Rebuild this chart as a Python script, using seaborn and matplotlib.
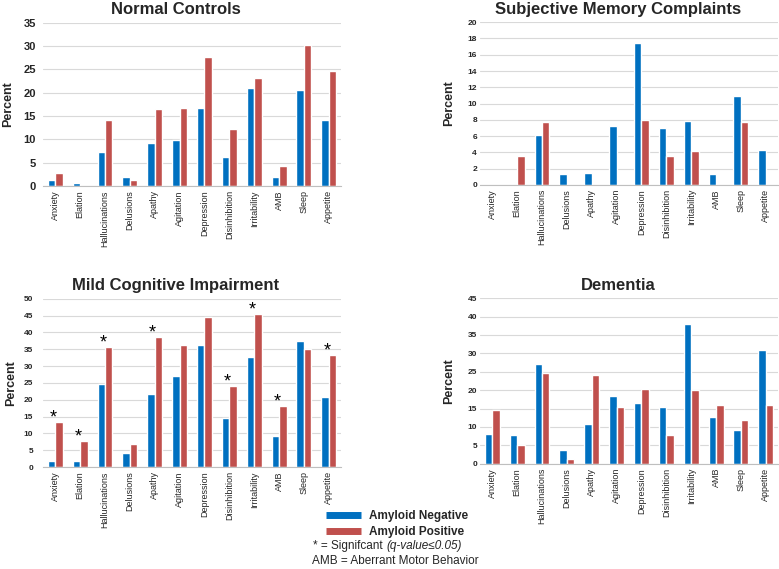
import matplotlib
matplotlib.use("Agg")
import matplotlib.pyplot as plt
from matplotlib.lines import Line2D
import seaborn as sns
import pandas as pd

# symptom categories (same order in every panel)
symptoms = ['Anxiety', 'Elation', 'Hallucinations', 'Delusions', 'Apathy', 'Agitation',
            'Depression', 'Disinhibition', 'Irritability', 'AMB', 'Sleep', 'Appetite']

# percent values
nc_neg = [1.4, 0.6, 7.3, 2.0, 9.2, 9.8, 16.8, 6.2, 21.0, 2.0, 20.6, 14.1]
nc_pos = [2.7, 0.0, 14.1, 1.4, 16.5, 16.7, 27.7, 12.3, 23.1, 4.2, 30.3, 24.7]

smc_neg = [0.0, 0.0, 6.1, 1.4, 1.5, 7.2, 17.4, 7.0, 7.9, 1.4, 10.9, 4.3]
smc_pos = [0.0, 3.6, 7.7, 0.0, 0.0, 0.0, 8.0, 3.6, 4.2, 0.0, 7.7, 0.0]

mci_neg = [1.8, 1.8, 24.7, 4.1, 21.8, 27.2, 36.2, 14.5, 32.6, 9.2, 37.4, 20.7]
mci_pos = [13.4, 7.8, 35.8, 7.0, 38.5, 36.2, 44.7, 24.1, 45.6, 18.2, 35.1, 33.3]
mci_sig = [True, True, True, False, True, False, False, True, True, True, False, True]

dem_neg = [8.1, 7.8, 27.2, 3.6, 10.9, 18.5, 16.5, 15.5, 38.1, 12.7, 9.3, 31.0]
dem_pos = [14.5, 5.1, 24.6, 1.4, 24.2, 15.4, 20.4, 7.9, 20.1, 16.0, 11.9, 16.0]

status = ['Amyloid Negative', 'Amyloid Positive']
colors = ['#0070C0', '#C0504D']


def make_df(neg, pos):
    return pd.DataFrame({
        'symptom': symptoms * 2,
        'pct': neg + pos,
        'status': [status[0]] * len(symptoms) + [status[1]] * len(symptoms),
    })


sns.set_theme(style='white')
plt.rcParams['font.family'] = ['Liberation Sans', 'DejaVu Sans']

fig = plt.figure(figsize=(7.79, 5.69), dpi=100)

# title, neg, pos, ymax, step, ytick size, ytick pad, ylabel pad, title x, axes rect
panels = [
    ('Normal Controls', nc_neg, nc_pos, 35, 5, 8, 5, 7, 0.446, [0.055, 0.673, 0.383, 0.287]),
    ('Subjective Memory Complaints', smc_neg, smc_pos, 20, 2, 6, 2, 9, 0.463, [0.616, 0.675, 0.383, 0.286]),
    ('Mild Cognitive Impairment', mci_neg, mci_pos, 50, 5, 6, 7, 5, 0.446, [0.055, 0.179, 0.383, 0.296]),
    ('Dementia', dem_neg, dem_pos, 45, 5, 6, 2, 9, 0.463, [0.616, 0.185, 0.383, 0.291]),
]

axes = []
for title, neg, pos, ymax, step, ysize, ypad, lpad, tx, rect in panels:
    ax = fig.add_axes(rect)
    sns.barplot(data=make_df(neg, pos), x='symptom', y='pct', hue='status',
                palette=colors, width=0.6, saturation=1, ax=ax, legend=False)
    ax.set_ylim(0, ymax)
    ax.set_xlim(-0.5, len(symptoms) - 0.5)
    ax.set_yticks(range(0, ymax + 1, step))
    ax.yaxis.grid(True, color='#D9D9D9', linewidth=0.8)
    ax.set_axisbelow(True)
    for s in ['top', 'right', 'left']:
        ax.spines[s].set_visible(False)
    ax.spines['bottom'].set_color('#BFBFBF')
    ax.spines['bottom'].set_linewidth(0.8)
    ax.tick_params(axis='x', length=0, pad=3, labelrotation=90, labelsize=6.5)
    ax.tick_params(axis='y', length=0, pad=ypad)
    for lbl in ax.get_yticklabels():
        lbl.set_fontsize(ysize)
        lbl.set_fontweight('bold')
    ax.set_xlabel('')
    ax.set_ylabel('Percent', fontsize=9, fontweight='bold', labelpad=lpad)
    ax.set_title(title, fontsize=12, fontweight='bold', pad=6, x=tx)
    axes.append(ax)

# significance stars for MCI
for i, sig in enumerate(mci_sig):
    if sig:
        top = max(mci_neg[i], mci_pos[i])
        axes[2].text(i - 0.08, top + 1.2, '*', ha='center', va='center',
                     fontsize=13, color='black')

# legend and notes
handles = [Line2D([], [], color=c, lw=5, solid_capstyle='butt') for c in colors]
fig.legend(handles=handles, labels=status, loc='upper left',
           bbox_to_anchor=(0.418, 0.104), frameon=False,
           prop={'weight': 'bold', 'size': 8.5}, handlelength=3.0,
           handletextpad=0.7, labelspacing=0.35, borderpad=0, borderaxespad=0)

t1 = fig.text(0.402, 1 - 546 / 569, '* = Signifcant ', fontsize=8.5, va='center')
axes[2].annotate('(q-value\u22640.05)', xy=(1, 0.5), xycoords=t1, fontsize=8.5,
                 style='italic', va='center', ha='left', annotation_clip=False)
fig.text(0.400, 1 - 561 / 569, 'AMB = Aberrant Motor Behavior', fontsize=8.5, va='center')

fig.savefig('out.png', dpi=100)
